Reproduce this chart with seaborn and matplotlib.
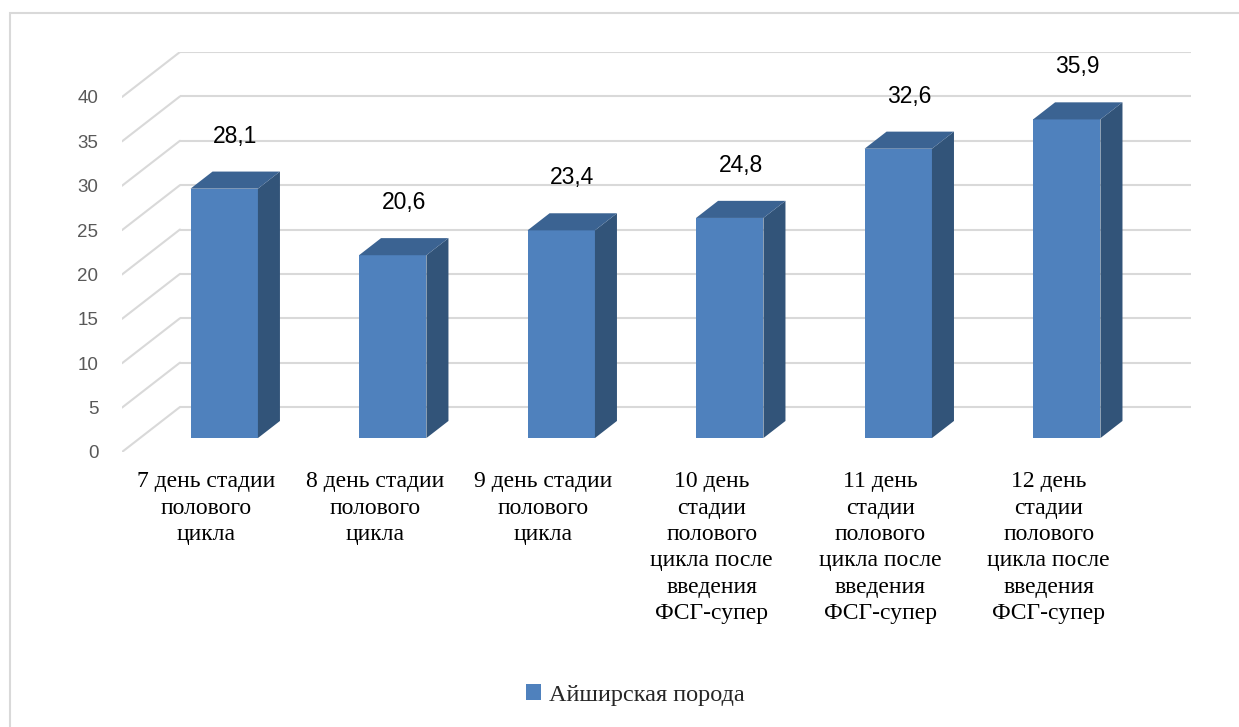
import matplotlib
matplotlib.use("Agg")
import matplotlib.pyplot as plt
from matplotlib.patches import Polygon, Rectangle, Patch
import seaborn as sns
import pandas as pd

# ---- data ----
categories = [
    "7 день стадии\nполового\nцикла",
    "8 день стадии\nполового\nцикла",
    "9 день стадии\nполового\nцикла",
    "10 день\nстадии\nполового\nцикла после\nвведения\nФСГ-супер",
    "11 день\nстадии\nполового\nцикла после\nвведения\nФСГ-супер",
    "12 день\nстадии\nполового\nцикла после\nвведения\nФСГ-супер",
]
values = [28.1, 20.6, 23.4, 24.8, 32.6, 35.9]
series_name = "Айширская порода"
y_ticks = [0, 5, 10, 15, 20, 25, 30, 35, 40]

# ---- styling ----
FRONT = "#4F81BD"
SIDE = "#325479"
TOP = "#3B6392"
GRID = "#D9D9D9"
TICK = "#595959"

sns.set_theme(style="white")
plt.rcParams["font.family"] = ["Liberation Sans", "DejaVu Sans"]

W, H = 1239, 727
fig = plt.figure(figsize=(W / 100, H / 100), dpi=100)
fig.patch.set_facecolor("white")

# outer chart frame
fig.add_artist(Rectangle((10 / W, -0.05), 1.2, 1 - 13 / H + 0.05,
                         transform=fig.transFigure, fill=False,
                         edgecolor=GRID, linewidth=1.5, zorder=0))

ax = fig.add_axes([122 / W, 1 - 452 / H, (1191 - 122) / W, (452 - 52) / H])
ax.set_facecolor("none")

# oblique depth projection (category units, value units)
DEPTH_X = 0.344     # full depth horizontally
DEPTH_Y = 5.07      # full depth vertically
FRONT_Z = -0.31     # front edge of the floor, relative to bar front
WALL_Z = 0.69       # back wall, relative to bar front
BAR_Z = 0.38        # bar depth
BAR_W = 0.4
n = len(values)

# back wall gridlines and left side-wall diagonals
for t in y_ticks:
    ax.plot([-0.5 + WALL_Z * DEPTH_X, n - 0.5 + WALL_Z * DEPTH_X],
            [t + WALL_Z * DEPTH_Y] * 2, color=GRID, lw=1.5, zorder=1,
            solid_capstyle="butt")
    ax.plot([-0.5 + FRONT_Z * DEPTH_X, -0.5 + WALL_Z * DEPTH_X],
            [t + FRONT_Z * DEPTH_Y, t + WALL_Z * DEPTH_Y],
            color=GRID, lw=1.5, zorder=1)

# front faces of the bars
df = pd.DataFrame({"cat": categories, "val": values})
sns.barplot(data=df, x="cat", y="val", width=BAR_W, color=FRONT,
            saturation=1, linewidth=0, ax=ax, zorder=3)

# side and top faces
dx, dy = BAR_Z * DEPTH_X, BAR_Z * DEPTH_Y
for i, v in enumerate(values):
    xl, xr = i - BAR_W / 2, i + BAR_W / 2
    ax.add_patch(Polygon([(xr, 0), (xr, v), (xr + dx, v + dy), (xr + dx, dy)],
                         closed=True, facecolor=SIDE, edgecolor="none", zorder=3))
    ax.add_patch(Polygon([(xl, v), (xr, v), (xr + dx, v + dy), (xl + dx, v + dy)],
                         closed=True, facecolor=TOP, edgecolor="none", zorder=3))
    ax.annotate(f"{v:.1f}".replace(".", ","), xy=(i + dx / 2, v + dy),
                xytext=(0, 24), textcoords="offset pixels",
                ha="center", va="bottom", fontsize=16.5, color="black",
                family=["Liberation Sans", "DejaVu Sans"], zorder=4)

ax.set_xlim(-0.5 + FRONT_Z * DEPTH_X, n - 0.5 + WALL_Z * DEPTH_X)
ax.set_ylim(FRONT_Z * DEPTH_Y, 40 + WALL_Z * DEPTH_Y)

# axis labels sit on the front plane
ax.set_yticks([t + FRONT_Z * DEPTH_Y for t in y_ticks])
ax.set_yticklabels([str(t) for t in y_ticks], fontsize=13.5, color=TICK)
ax.set_xticks([i + FRONT_Z * DEPTH_X for i in range(n)])
ax.set_xticklabels(categories, fontsize=17, color="black",
                   family=["Liberation Serif", "DejaVu Serif"],
                   linespacing=1.33, va="top")
ax.tick_params(axis="y", length=0, pad=17)
ax.tick_params(axis="x", length=0, pad=14)
ax.set_xlabel("")
ax.set_ylabel("")
for s in ax.spines.values():
    s.set_visible(False)

fig.legend(handles=[Patch(facecolor=FRONT, edgecolor="none", label=series_name)],
           loc="center", bbox_to_anchor=(635 / W, 1 - 695 / H), frameon=False,
           handlelength=0.65, handleheight=0.65, handletextpad=0.3,
           prop={"family": ["Liberation Serif", "DejaVu Serif"], "size": 17.5})

fig.savefig("out.png", dpi=100)
